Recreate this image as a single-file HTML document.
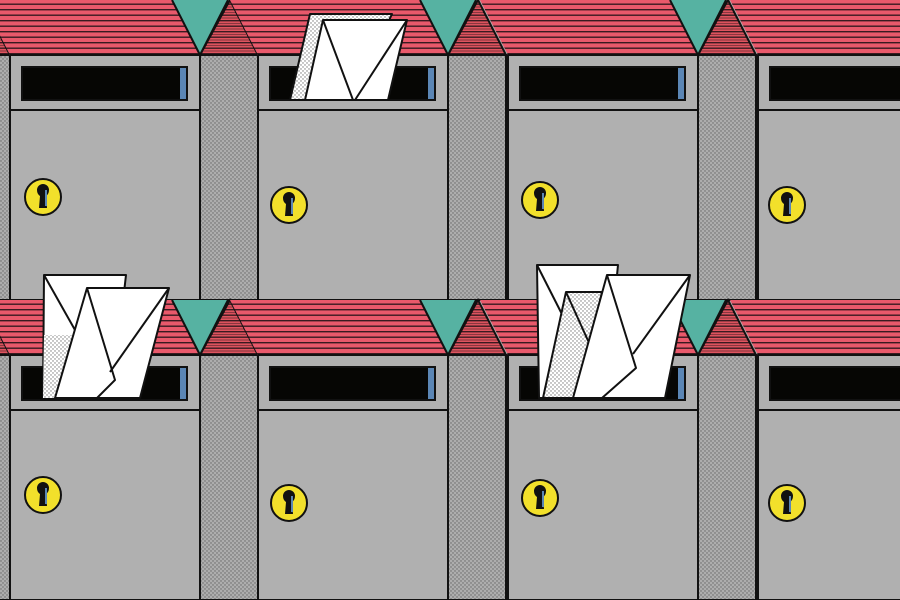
<!DOCTYPE html>
<html><head><style>html,body{margin:0;padding:0;background:#b0b0b0}svg{display:block}</style></head><body>
<svg width="900" height="600" viewBox="0 0 900 600" xmlns="http://www.w3.org/2000/svg">
<defs>
<pattern id="dots" width="4" height="4" patternUnits="userSpaceOnUse"><rect width="4" height="4" fill="#adadad"/><circle cx="1" cy="1" r="0.7" fill="#666"/><circle cx="3" cy="3" r="0.7" fill="#666"/></pattern>
<pattern id="wdots" width="4" height="4" patternUnits="userSpaceOnUse"><rect width="4" height="4" fill="#fff"/><circle cx="1" cy="1" r="0.7" fill="#777"/><circle cx="3" cy="3" r="0.7" fill="#777"/></pattern>
<pattern id="stripes" width="10" height="5.5" patternUnits="userSpaceOnUse"><rect width="10" height="5.5" fill="#e9596b"/><rect y="3.5" width="10" height="1.4" fill="#3a1a20"/></pattern>
<pattern id="gstripes" width="4" height="5.5" patternUnits="userSpaceOnUse"><rect width="4" height="5.5" fill="#e0545f"/><rect y="3.5" width="4" height="1.4" fill="#3a1a20"/><circle cx="1" cy="1.5" r="0.6" fill="#3a1a20"/><circle cx="3" cy="1.5" r="0.6" fill="#3a1a20"/></pattern>
<g id="unit" stroke="#111" stroke-width="2">
  <rect x="200" y="55" width="58" height="245" fill="url(#dots)"/>
  <rect x="10" y="55" width="190" height="245" fill="#b0b0b0"/>
  <line x1="10" y1="110" x2="200" y2="110"/>
  <rect x="22" y="67" width="165" height="33" fill="#060604"/>
  <rect x="180" y="68" width="6" height="31" fill="#5b86b5" stroke="none"/>
  <polygon points="-18,0 200,0 200,55 10,55" fill="url(#stripes)" stroke="none"/>
  <polygon points="200,55 230,0 258,55" fill="url(#gstripes)"/>
  <polygon points="172,0 228,0 200,55" fill="#56b2a2" stroke="none"/>
  <line x1="172" y1="0" x2="200" y2="55"/>
  <line x1="200" y1="55" x2="228" y2="0"/>
  <line x1="10" y1="55" x2="200" y2="55"/>
</g>
<g id="key" stroke="#111" stroke-width="2">
  <circle cx="0" cy="0" r="18" fill="#f2e02b"/>
  <path d="M-6,-7 a6,6 0 1 1 12,0 q0,4 -3,6 l1,12 h-8 l1,-12 q-3,-2 -3,-6z" fill="#111" stroke="none"/>
  <rect x="2" y="-7" width="2" height="16" fill="#5b86b5" stroke="none"/>
</g>
</defs>
<rect width="900" height="600" fill="#b0b0b0"/>
<use href="#unit" transform="translate(-248,0)"/>
<use href="#unit" transform="translate(0,0)"/>
<use href="#unit" transform="translate(248,0)"/>
<use href="#unit" transform="translate(498,0)"/>
<use href="#unit" transform="translate(748,0)"/>
<use href="#unit" transform="translate(-248,300)"/>
<use href="#unit" transform="translate(0,300)"/>
<use href="#unit" transform="translate(248,300)"/>
<use href="#unit" transform="translate(498,300)"/>
<use href="#unit" transform="translate(748,300)"/>
<use href="#key" transform="translate(43,197)"/>
<use href="#key" transform="translate(289,205)"/>
<use href="#key" transform="translate(540,200)"/>
<use href="#key" transform="translate(787,205)"/>
<use href="#key" transform="translate(43,495)"/>
<use href="#key" transform="translate(289,503)"/>
<use href="#key" transform="translate(540,498)"/>
<use href="#key" transform="translate(787,503)"/>
<g stroke="#111" stroke-width="2" stroke-linejoin="round">
  <polygon points="310,14 392,14 352,100 290,100" fill="url(#wdots)"/>
  <polygon points="323,20 407,20 388,100 305,100" fill="#fff"/>
  <polyline points="323,20 353,100" fill="none"/>
  <polyline points="407,20 355,100" fill="none"/>
  <polygon points="44,275 126,275 112,398 43,398" fill="#fff"/>
  <polygon points="44,335 72,335 62,398 43,398" fill="url(#wdots)" stroke="none"/>
  <line x1="44" y1="275" x2="75" y2="330"/>
  <polygon points="87,288 169,288 140,398 55,398" fill="#fff"/>
  <polyline points="87,288 115,380 97,398" fill="none"/>
  <polyline points="169,288 110,372" fill="none"/>
  <polygon points="537,265 618,265 605,398 539,398" fill="#fff"/>
  <line x1="537" y1="265" x2="570" y2="330"/>
  <polygon points="566,292 602,292 578,398 543,398" fill="url(#wdots)"/>
  <line x1="566" y1="292" x2="590" y2="345"/>
  <polygon points="607,275 690,275 665,398 573,398" fill="#fff"/>
  <polyline points="607,275 636,368 602,398" fill="none"/>
  <polyline points="690,275 633,354" fill="none"/>
</g>
</svg>
</body></html>
